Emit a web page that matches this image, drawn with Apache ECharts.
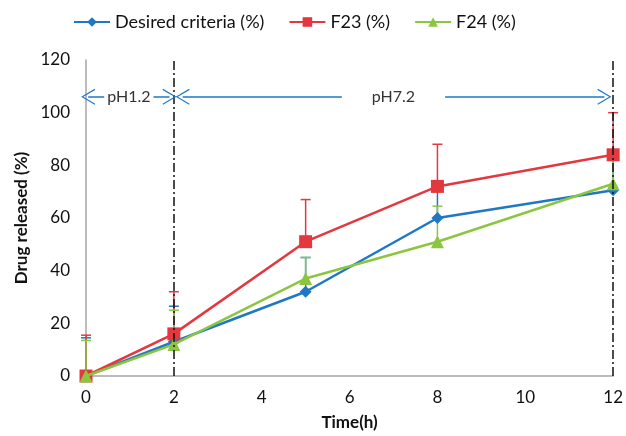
<!DOCTYPE html>
<html>
<head>
<meta charset="utf-8">
<title>Drug release</title>
<script src="https://cdn.jsdelivr.net/npm/echarts@6/dist/echarts.min.js"></script>
<style>
  html, body { margin: 0; padding: 0; background: #fff; }
  #chart { width: 626px; height: 436px; }
</style>
</head>
<body>
<div id="chart"></div>
<script>
// time points (h)
var times = [0, 2, 5, 8, 12];

// released (%)
var desired = [0, 13, 32, 60, 70.5];
var f23 = [0, 16, 51, 72, 84];
var f24 = [0, 12, 37, 51, 73];

// upper error (%)
var desiredErr = [14.5, 13.5, 13, 12, 12];
var f23Err = [15.5, 16, 16, 16, 16];
var f24Err = [13.5, 13, 8, 13.5, 10];

// phase annotations
var phaseLines = [2, 12];
var phases = [
  { name: 'pH1.2', from: 0.05, to: 1.9, y: 106 },
  { name: 'pH7.2', from: 2.2, to: 11.8, y: 106 }
];

var colors = ['#1f78c4', '#e2383f', '#8cc540'];
var font = 'Lato, "Open Sans", sans-serif';

function pairs(ys) {
  return times.map(function (t, i) { return [t, ys[i]]; });
}

function errorSeries(ys, errs, color) {
  return {
    type: 'custom',
    silent: true,
    z: 1,
    data: times.map(function (t, i) { return [t, ys[i], ys[i] + errs[i]]; }),
    renderItem: function (params, api) {
      var lo = api.coord([api.value(0), api.value(1)]);
      var hi = api.coord([api.value(0), api.value(2)]);
      var w = 5;
      return {
        type: 'group',
        children: [
          { type: 'line', shape: { x1: lo[0], y1: lo[1], x2: hi[0], y2: hi[1] },
            style: { stroke: color, lineWidth: 1.5 } },
          { type: 'line', shape: { x1: hi[0] - w, y1: hi[1], x2: hi[0] + w, y2: hi[1] },
            style: { stroke: color, lineWidth: 1.5 } }
        ]
      };
    }
  };
}

// open chevron pointing up, rotated by markLine
var chevron = 'path://M0,14 L8,0 L16,14 L14.9,14.6 L8,2.3 L1.1,14.6 Z';

var chart = echarts.init(document.getElementById('chart'));

chart.setOption({
  animation: false,
  textStyle: { fontFamily: font },
  legend: {
    top: 8,
    left: 68,
    itemWidth: 36,
    itemHeight: 12,
    itemGap: 24,
    textStyle: { fontSize: 18, color: '#111', fontFamily: font },
    data: ['Desired criteria (%)', 'F23 (%)', 'F24 (%)']
  },
  grid: { left: 86, right: 12, top: 60, bottom: 59 },
  xAxis: {
    type: 'value',
    min: 0, max: 12, interval: 2,
    name: 'Time(h)',
    nameLocation: 'middle',
    nameGap: 38,
    nameTextStyle: { fontSize: 17, fontWeight: 'bold', color: '#111' },
    axisLine: { lineStyle: { color: '#a6a6a6', width: 1.5 } },
    axisTick: { show: false },
    axisLabel: { fontSize: 17, color: '#111', margin: 13 },
    splitLine: { show: false }
  },
  yAxis: {
    type: 'value',
    min: 0, max: 120, interval: 20,
    name: 'Drug released (%)',
    nameLocation: 'middle',
    nameGap: 52,
    nameTextStyle: { fontSize: 17, fontWeight: 'bold', color: '#111' },
    axisLine: { show: true, lineStyle: { color: '#a6a6a6', width: 1.5 } },
    axisTick: { show: false },
    axisLabel: { fontSize: 17, color: '#111', margin: 16 },
    splitLine: { show: false }
  },
  series: [
    errorSeries(desired, desiredErr, colors[0]),
    errorSeries(f23, f23Err, colors[1]),
    errorSeries(f24, f24Err, colors[2]),
    {
      name: 'Desired criteria (%)', type: 'line', data: pairs(desired), z: 3,
      color: colors[0], symbol: 'diamond', symbolSize: 12,
      lineStyle: { width: 2.5 },
      markLine: {
        silent: true,
        symbol: 'none',
        label: { show: false },
        lineStyle: { color: '#111', type: [9, 3, 2, 3], width: 1.5 },
        data: phaseLines.map(function (x) { return { xAxis: x }; }),
        z: 5
      }
    },
    {
      name: 'F23 (%)', type: 'line', data: pairs(f23), z: 3,
      color: colors[1], symbol: 'rect', symbolSize: 13,
      lineStyle: { width: 2.5 }
    },
    {
      name: 'F24 (%)', type: 'line', data: pairs(f24), z: 4,
      color: colors[2], symbol: 'triangle', symbolSize: 13,
      lineStyle: { width: 2.5 },
      markLine: {
        silent: true,
        symbol: [chevron, chevron],
        symbolSize: [16, 14],
        lineStyle: { color: colors[0], type: 'solid', width: 1.5 },
        label: {
          show: true,
          position: 'insideMiddle',
          distance: 0,
          formatter: '{b}',
          fontSize: 16,
          color: '#333',
          backgroundColor: '#fff',
          padding: [2, 3]
        },
        data: phases.map(function (p, i) {
          return [
            { name: p.name, coord: [p.from, p.y],
              label: { padding: i === 0 ? [2, 3] : [2, 30] } },
            { coord: [p.to, p.y] }
          ];
        }),
        z: 5
      }
    }
  ]
});
</script>
</body>
</html>
